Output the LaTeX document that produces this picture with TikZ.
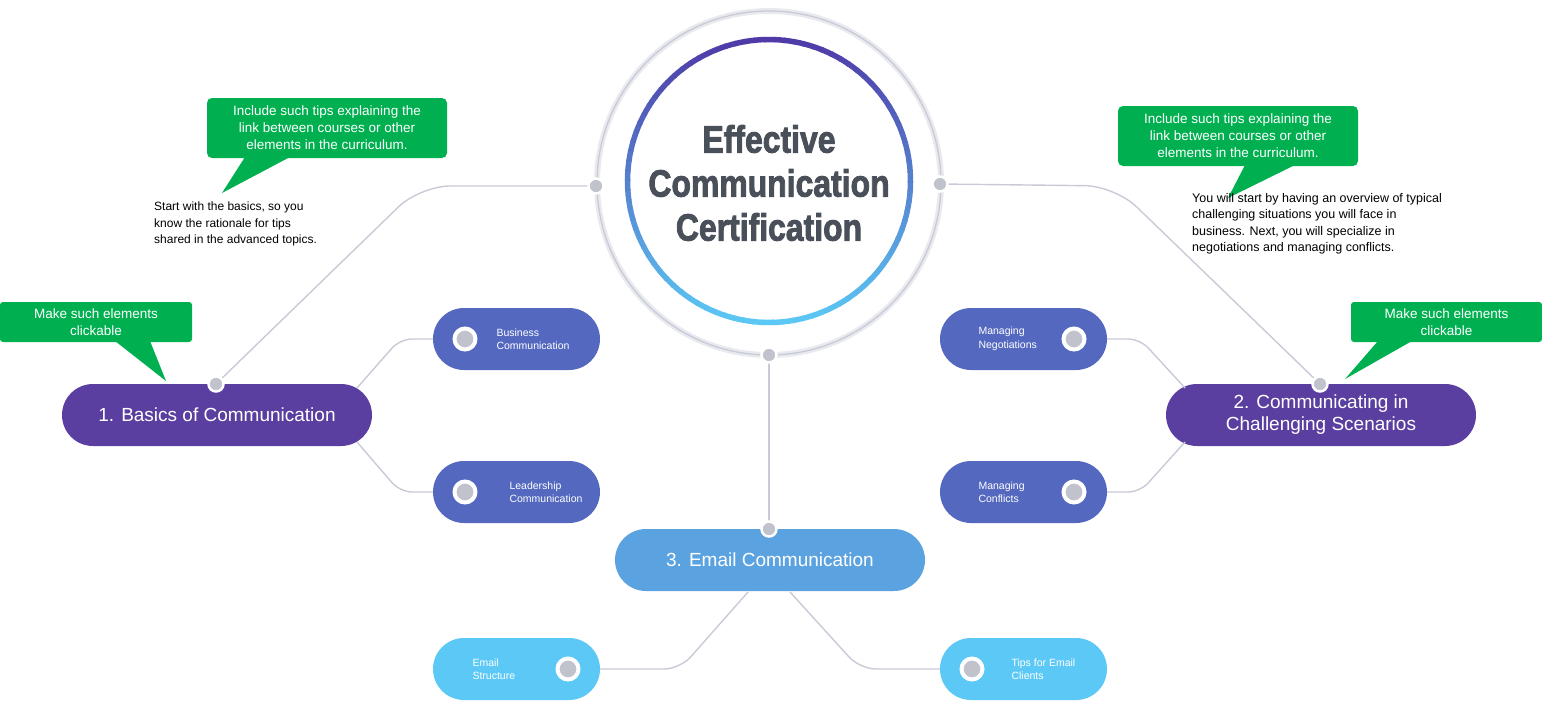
\documentclass[tikz,border=0pt]{standalone}
\usepackage{fontspec}
\setmainfont{Liberation Sans}
\newfontfamily\ttlfont[FakeBold=2.5]{Liberation Sans Bold}
\usetikzlibrary{shapes.geometric,calc}
\definecolor{purp}{HTML}{5A3FA0}
\definecolor{ringtop}{HTML}{4F3AA8}
\definecolor{subb}{HTML}{5468C0}
\definecolor{emb}{HTML}{5BA3E0}
\definecolor{lb}{HTML}{5BC8F5}
\definecolor{grn}{HTML}{00B050}
\definecolor{ln}{HTML}{C8CAD6}
\definecolor{dotc}{HTML}{C0C3CC}
\definecolor{ttl}{HTML}{4A505A}
\begin{document}
\begin{tikzpicture}[x=1pt,y=-1pt,
  mainbox/.style={rounded corners=31pt,minimum width=310pt,minimum height=62pt,text=white,font=\fontsize{19}{22}\selectfont,align=center,inner sep=0pt},
  subbox/.style={rounded corners=31pt,minimum width=167pt,minimum height=62pt,text=white,font=\fontsize{10.5}{13.5}\selectfont,inner sep=0pt},
  callout/.style={fill=grn,rounded corners=5pt,text=white,align=center,font=\fontsize{13.5}{17}\selectfont,inner sep=0pt},
  conn/.style={draw=ln,line width=1.4pt,rounded corners=30pt},
  gdot/.style={circle,fill=dotc,draw=white,line width=2.5pt,minimum size=15pt,inner sep=0pt},
  knob/.style={circle,fill=dotc,draw=white,line width=4pt,minimum size=21pt,inner sep=0pt},
  note/.style={align=left,font=\fontsize{12}{16.5}\selectfont,anchor=north west,inner sep=0pt}]
\useasboundingbox (0,0) rectangle (1542,701);
% center circle
\draw[ln!40,line width=6pt] (769,183) circle (172);
\draw[ln,line width=1.3pt] (769,183) circle (172);
\foreach \a in {0,4,...,356}{
  \pgfmathsetmacro\p{(1-sin(\a+2))*50}
  \draw[line width=5.5pt,color=ringtop!\p!lb] ($(769,181)+(\a:141.5)$) arc[start angle=\a,end angle=\a+4.6,radius=141.5];
}
\node[font=\fontsize{38}{44}\ttlfont,text=ttl,align=center] (title) at (769,183)
 {\scalebox{0.84}[1]{Effective}\\\scalebox{0.84}[1]{Communication}\\\scalebox{0.84}[1]{Certification}};
% nodes
\node[mainbox,fill=purp] (b1) at (217,415) {1. Basics of Communication};
\node[mainbox,fill=purp] (b2) at (1321,415) {2. Communicating in\\Challenging Scenarios};
\node[mainbox,fill=emb] (b3) at (770,560) {3. Email Communication};
\node[subbox,fill=subb] (s1) at (516.5,339) {\hspace*{60pt}\parbox{100pt}{Business\\Communication}};
\node[subbox,fill=subb] (s2) at (516.5,492) {\hspace*{76pt}\parbox{90pt}{Leadership\\Communication}};
\node[subbox,fill=subb] (s3) at (1023.5,339) {\hspace*{10pt}\parbox{100pt}{Managing\\Negotiations}};
\node[subbox,fill=subb] (s4) at (1023.5,492) {\hspace*{10pt}\parbox{100pt}{Managing\\Conflicts}};
\node[subbox,fill=lb] (s5) at (516.5,669) {\hspace*{12pt}\parbox{100pt}{Email\\Structure}};
\node[subbox,fill=lb] (s6) at (1023.5,669) {\hspace*{66pt}\parbox{90pt}{Tips for Email\\Clients}};
\node[knob] (k1) at (465,339) {};
\node[knob] (k2) at (465,492) {};
\node[knob] (k3) at (1074,339) {};
\node[knob] (k4) at (1074,492) {};
\node[knob] (k5) at (568,669) {};
\node[knob] (k6) at (972,669) {};
% connectors
\coordinate (c1) at (420,186);
\coordinate (c2) at (1115,186);
\draw[conn] (596,186) -- (c1) -- (216,384);
\draw[conn] (940,184) -- (c2) -- (1320,384);
\draw[conn] (769,355) -- (769,529);
\draw[conn,rounded corners=12pt] (357,388) -- (400,339) -- (s1.west);
\draw[conn,rounded corners=12pt] (357,442) -- (400,492) -- (s2.west);
\draw[conn,rounded corners=12pt] (s3.east) -- (1140,339) -- (1185,388);
\draw[conn,rounded corners=12pt] (s4.east) -- (1140,492) -- (1185,442);
\draw[conn,rounded corners=16pt] (748,592) -- (680,669) -- (s5.east);
\draw[conn,rounded corners=16pt] (790,592) -- (860,669) -- (s6.west);
\node[gdot] (d1) at (596,186) {};
\node[gdot] (d2) at (940,184) {};
\node[gdot] (d3) at (769,355) {};
\node[gdot] (d4) at (769,529) {};
\node[gdot] (d5) at (216,384) {};
\node[gdot] (d6) at (1320,384) {};
% callouts
\node[callout,minimum width=240pt,minimum height=60pt] (g1) at (327,128) {Include such tips explaining the\\link between courses or other\\elements in the curriculum.};
\fill[grn] (245,157) -- (290,157) -- (222,193) -- cycle;
\node[callout,minimum width=240pt,minimum height=60pt] (g2) at (1238,136) {Include such tips explaining the\\link between courses or other\\elements in the curriculum.};
\fill[grn] (1245,165) -- (1295,165) -- (1228,198) -- cycle;
\node[callout,minimum width=192pt,minimum height=40pt,rounded corners=3pt] (g3) at (96,322) {Make such elements\\clickable};
\fill[grn] (115,341) -- (150,341) -- (166,381) -- cycle;
\node[callout,minimum width=191pt,minimum height=40pt,rounded corners=3pt] (g4) at (1446.5,322) {Make such elements\\clickable};
\fill[grn] (1378,341) -- (1412,341) -- (1345,379) -- cycle;
% notes
\node[note] (n1) at (154,202) {Start with the basics, so you\\know the rationale for tips\\shared in the advanced topics.};
\node[note,font=\fontsize{12.5}{16.5}\selectfont] (n2) at (1192,193) {You will start by having an overview of typical\\challenging situations you will face in\\business. Next, you will specialize in\\negotiations and managing conflicts.};
\end{tikzpicture}
\end{document}
